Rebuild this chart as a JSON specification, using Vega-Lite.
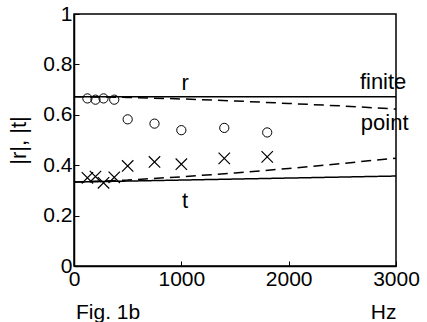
{
  "$schema": "https://vega.github.io/schema/vega-lite/v6.json",
  "autosize": "none",
  "width": 322,
  "height": 252,
  "padding": {"left": 74, "top": 14, "right": 31, "bottom": 56},
  "background": "white",
  "config": {
    "font": "Liberation Sans",
    "view": {"stroke": "black", "strokeWidth": 1.5},
    "axis": {
      "domainColor": "black", "domainWidth": 1.5, "tickColor": "black", "tickWidth": 1,
      "labelColor": "black", "labelFont": "Liberation Sans", "labelFontSize": 21,
      "titleColor": "black", "titleFont": "Liberation Sans", "titleFontWeight": "normal", "titleFontSize": 21,
      "grid": false
    }
  },
  "title": {"text": "Fig. 1b", "orient": "bottom", "anchor": "start", "frame": "group", "fontSize": 21, "fontWeight": "normal", "font": "Liberation Sans", "color": "black", "dy": -24, "dx": 2},
  "datasets": {
    "lines": [
      {"f": 0, "v": 0.672, "series": "finite r", "kind": "finite"},
      {"f": 3000, "v": 0.672, "series": "finite r", "kind": "finite"},
      {"f": 0, "v": 0.333, "series": "finite t", "kind": "finite"},
      {"f": 3000, "v": 0.357, "series": "finite t", "kind": "finite"},
      {"f": 0, "v": 0.672, "series": "point r", "kind": "point"},
      {"f": 500, "v": 0.669, "series": "point r", "kind": "point"},
      {"f": 1000, "v": 0.663, "series": "point r", "kind": "point"},
      {"f": 1500, "v": 0.655, "series": "point r", "kind": "point"},
      {"f": 2000, "v": 0.645, "series": "point r", "kind": "point"},
      {"f": 2500, "v": 0.635, "series": "point r", "kind": "point"},
      {"f": 3000, "v": 0.623, "series": "point r", "kind": "point"},
      {"f": 0, "v": 0.333, "series": "point t", "kind": "point"},
      {"f": 500, "v": 0.341, "series": "point t", "kind": "point"},
      {"f": 1000, "v": 0.354, "series": "point t", "kind": "point"},
      {"f": 1500, "v": 0.369, "series": "point t", "kind": "point"},
      {"f": 2000, "v": 0.387, "series": "point t", "kind": "point"},
      {"f": 2500, "v": 0.407, "series": "point t", "kind": "point"},
      {"f": 3000, "v": 0.428, "series": "point t", "kind": "point"}
    ],
    "circles": [
      {"f": 125, "v": 0.665}, {"f": 200, "v": 0.66}, {"f": 275, "v": 0.665}, {"f": 375, "v": 0.66},
      {"f": 500, "v": 0.582}, {"f": 750, "v": 0.565}, {"f": 1000, "v": 0.539}, {"f": 1400, "v": 0.548}, {"f": 1800, "v": 0.53}
    ],
    "crosses": [
      {"f": 125, "v": 0.35}, {"f": 200, "v": 0.355}, {"f": 275, "v": 0.33}, {"f": 375, "v": 0.352},
      {"f": 500, "v": 0.397}, {"f": 750, "v": 0.413}, {"f": 1000, "v": 0.404}, {"f": 1400, "v": 0.427}, {"f": 1800, "v": 0.433}
    ],
    "labels": [
      {"f": 1035, "v": 0.697, "text": "r", "align": "center"},
      {"f": 1035, "v": 0.23, "text": "t", "align": "center"},
      {"f": 2880, "v": 0.703, "text": "finite", "align": "right"},
      {"f": 2895, "v": 0.539, "text": "point", "align": "right"}
    ]
  },
  "layer": [
    {
      "data": {"name": "lines"},
      "mark": {"type": "line", "color": "black", "strokeWidth": 1.5},
      "encoding": {
        "x": {"field": "f", "type": "quantitative", "scale": {"domain": [0, 3000]},
          "axis": {"values": [0, 1000, 2000, 3000], "format": "d", "tickSize": -5, "labelPadding": 7, "labelFlush": false,
            "title": "Hz", "titleX": 322, "titleY": 52, "titleAlign": "right", "titleBaseline": "alphabetic", "titleAnchor": "end"}},
        "y": {"field": "v", "type": "quantitative", "scale": {"domain": [0, 1]},
          "axis": {"values": [0, 0.2, 0.4, 0.6, 0.8, 1], "format": "~g", "tickSize": -5, "labelPadding": 7, "labelFlush": false,
            "title": "|r|, |t|", "titleX": -56, "titleBaseline": "middle", "titleFontSize": 22}},
        "detail": {"field": "series"},
        "strokeDash": {"field": "kind", "type": "nominal", "scale": {"domain": ["finite", "point"], "range": [[1, 0], [10, 6]]}, "legend": null}
      }
    },
    {
      "data": {"name": "circles"},
      "mark": {"type": "point", "shape": "circle", "filled": false, "color": "black", "strokeWidth": 1, "size": 85, "opacity": 1},
      "encoding": {
        "x": {"field": "f", "type": "quantitative"},
        "y": {"field": "v", "type": "quantitative"}
      }
    },
    {
      "data": {"name": "crosses"},
      "mark": {"type": "point", "shape": "M-1,-1L1,1M1,-1L-1,1", "filled": false, "color": "black", "strokeWidth": 1.2, "size": 130, "opacity": 1},
      "encoding": {
        "x": {"field": "f", "type": "quantitative"},
        "y": {"field": "v", "type": "quantitative"}
      }
    },
    {
      "data": {"name": "labels"},
      "mark": {"type": "text", "fontSize": 22, "color": "black", "baseline": "alphabetic", "font": "Liberation Sans"},
      "encoding": {
        "x": {"field": "f", "type": "quantitative"},
        "y": {"field": "v", "type": "quantitative"},
        "text": {"field": "text"},
        "align": {"field": "align", "type": "nominal", "scale": null}
      }
    }
  ]
}
